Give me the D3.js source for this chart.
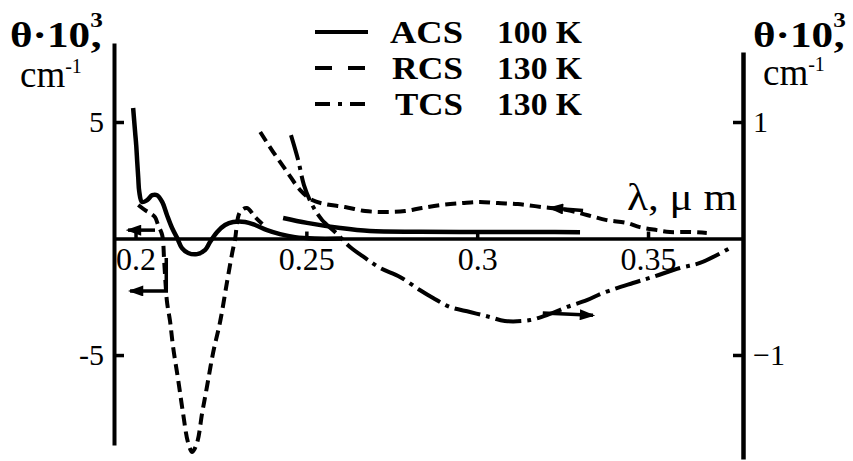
<!DOCTYPE html>
<html>
<head>
<meta charset="utf-8">
<script src="https://cdn.jsdelivr.net/npm/d3@7"></script>
<style>
  html, body { margin: 0; padding: 0; background: #fff; }
  svg { display: block; }
  text { font-family: "Liberation Serif", "Times New Roman", serif; fill: #000; }
</style>
</head>
<body>
<svg id="chart" width="853" height="461"></svg>
<script>
// Wavelength in µm, θ·10³ in cm⁻¹.
// ACS 100 K, left scale
const acsMain = [
  [0.1993, 5.60], [0.1999, 4.53], [0.2002, 4.01], [0.2005, 3.28], [0.2008, 2.60],
  [0.2011, 2.00], [0.2019, 1.57], [0.2034, 1.65], [0.2049, 1.86], [0.2063, 1.86],
  [0.2078, 1.57], [0.2092, 1.01], [0.2107, 0.45], [0.2122, 0.02], [0.2136, -0.41],
  [0.2154, -0.62], [0.2180, -0.67], [0.2204, -0.49], [0.2218, -0.15], [0.2239, 0.28],
  [0.2262, 0.58], [0.2286, 0.71], [0.2321, 0.71], [0.2350, 0.58], [0.2385, 0.36],
  [0.2423, 0.19], [0.2467, 0.06], [0.2525, 0.00], [0.2600, 0.00]
];
// ACS 100 K, long-wave branch
const acsTail = [
  [0.2432, 0.88], [0.2502, 0.67], [0.2599, 0.45], [0.2686, 0.32], [0.2832, 0.29],
  [0.3008, 0.28], [0.3184, 0.28], [0.3301, 0.27]
];
// RCS 130 K, short-wave branch with the deep minimum, left scale
const rcsShort = [
  [0.2008, 1.44], [0.2028, 1.22], [0.2043, 1.09], [0.2057, 0.92], [0.2066, 0.58],
  [0.2078, 0.15], [0.2084, -1.01], [0.2092, -2.70], [0.2101, -3.54], [0.2110, -4.66],
  [0.2125, -6.08], [0.2139, -7.49], [0.2154, -8.77], [0.2166, -9.16], [0.2180, -8.77],
  [0.2195, -7.49], [0.2209, -6.37], [0.2227, -4.91], [0.2248, -3.54], [0.2268, -1.85],
  [0.2283, -0.62], [0.2291, -0.06], [0.2306, 1.14], [0.2326, 1.31], [0.2350, 0.92],
  [0.2371, 0.62]
];
// RCS 130 K, long-wave branch, left scale
const rcsLong = [
  [0.2365, 4.57], [0.2403, 3.71], [0.2444, 2.85], [0.2482, 2.08], [0.2517, 1.65],
  [0.2555, 1.48], [0.2613, 1.35], [0.2672, 1.18], [0.2730, 1.14], [0.2789, 1.18],
  [0.2838, 1.31], [0.2897, 1.44], [0.2956, 1.52], [0.3008, 1.57], [0.3061, 1.52],
  [0.3119, 1.48], [0.3190, 1.35], [0.3263, 1.22], [0.3321, 1.01], [0.3379, 0.79],
  [0.3438, 0.67], [0.3476, 0.49], [0.3526, 0.36], [0.3564, 0.28], [0.3622, 0.28],
  [0.3672, 0.24]
];
// TCS 130 K, right scale
const tcs = [
  [0.2455, 0.888], [0.2476, 0.674], [0.2493, 0.459], [0.2517, 0.288], [0.2546, 0.159],
  [0.2584, 0.056], [0.2628, -0.073], [0.2672, -0.167], [0.2716, -0.253], [0.2774, -0.330],
  [0.2832, -0.442], [0.2871, -0.511], [0.2920, -0.588], [0.2979, -0.631], [0.3037, -0.674],
  [0.3081, -0.708], [0.3155, -0.700], [0.3213, -0.648], [0.3263, -0.588], [0.3321, -0.530],
  [0.3368, -0.468], [0.3456, -0.382], [0.3514, -0.330], [0.3593, -0.253], [0.3652, -0.210],
  [0.3740, -0.082]
];

// Arrows telling which scale a curve belongs to
const acsArrow = [[0.2057, 0.36], [0.1978, 0.36]];
const rcsShortArrow = [[0.2090, -0.84], [0.2090, -2.25], [0.1984, -2.25]];
const rcsLongArrow = [[0.3310, 1.20], [0.3213, 1.31]];
const tcsArrow = [[0.3192, -0.64], [0.3339, -0.66]];

const xTicks = [0.2, 0.25, 0.3, 0.35];
const xTickLabels = ["0.2", "0.25", "0.3", "0.35"];
const leftTicks = [5, -5];
const leftTickLabels = ["5", "-5"];
const rightTicks = [1, -1];
const rightTickLabels = ["1", "\u22121"];

const legendNames = ["ACS", "RCS", "TCS"];
const legendTemps = ["100 K", "130 K", "130 K"];

const svg = d3.select("#chart");

const x = d3.scaleLinear().domain([0.1937, 0.3778]).range([114, 743]);
const yL = d3.scaleLinear().domain([-8.86, 8.39]).range([445, 43]);
const yR = d3.scaleLinear().domain([-1.893, 1.601]).range([459, 52]);

const styles = {
  solid:   { dash: null,           width: 4.5 },
  dashed:  { dash: "11,6",         width: 4 },
  dashdot: { dash: "26,6,4,6",     width: 4 }
};
const legendDash = { solid: null, dashed: "17,16", dashdot: "15,8,4,8" };

// ---- axes ----
function styleAxis(g, domainWidth, fontSize) {
  g.attr("font-family", "Liberation Serif, Times New Roman, serif").attr("font-size", fontSize);
  g.select(".domain").attr("stroke-width", domainWidth).attr("stroke", "#000");
  g.selectAll(".tick line").attr("stroke-width", 3.5).attr("stroke", "#000");
  g.selectAll(".tick text").attr("fill", "#000");
}

const gx = svg.append("g")
  .attr("transform", `translate(0,${yL(0)})`)
  .call(d3.axisBottom(x).tickValues(xTicks).tickFormat((d, i) => xTickLabels[i])
    .tickSizeInner(-7).tickSizeOuter(0).tickPadding(9));
styleAxis(gx, 3.5, 32);

const gl = svg.append("g")
  .attr("transform", "translate(114,0)")
  .call(d3.axisLeft(yL).tickValues(leftTicks).tickFormat((d, i) => leftTickLabels[i])
    .tickSizeInner(-10).tickSizeOuter(0).tickPadding(10));
styleAxis(gl, 4, 30);

const gr = svg.append("g")
  .attr("transform", "translate(743,0)")
  .call(d3.axisRight(yR).tickValues(rightTicks).tickFormat((d, i) => rightTickLabels[i])
    .tickSizeInner(-10).tickSizeOuter(0).tickPadding(10));
styleAxis(gr, 4.5, 30);

// ---- curves ----
const lineL = d3.line().x(d => x(d[0])).y(d => yL(d[1])).curve(d3.curveCatmullRom.alpha(0.5));
const lineR = d3.line().x(d => x(d[0])).y(d => yR(d[1])).curve(d3.curveCatmullRom.alpha(0.5));

const curves = [
  { values: acsMain,  line: lineL, style: "solid" },
  { values: acsTail,  line: lineL, style: "solid" },
  { values: rcsShort, line: lineL, style: "dashed" },
  { values: rcsLong,  line: lineL, style: "dashed" },
  { values: tcs,      line: lineR, style: "dashdot" }
];

svg.append("g").selectAll("path")
  .data(curves)
  .join("path")
  .attr("d", c => c.line(c.values))
  .attr("fill", "none")
  .attr("stroke", "#000")
  .attr("stroke-width", c => styles[c.style].width)
  .attr("stroke-dasharray", c => styles[c.style].dash)
  .attr("stroke-linejoin", "round");

// ---- arrows ----
const defs = svg.append("defs");
defs.append("marker")
  .attr("id", "head")
  .attr("markerUnits", "userSpaceOnUse")
  .attr("viewBox", "0 0 14 10")
  .attr("refX", 12).attr("refY", 5)
  .attr("markerWidth", 16).attr("markerHeight", 11)
  .attr("orient", "auto")
  .append("path").attr("d", "M0,0 L14,5 L0,10 Z").attr("fill", "#000");

const straightL = d3.line().x(d => x(d[0])).y(d => yL(d[1]));
const straightR = d3.line().x(d => x(d[0])).y(d => yR(d[1]));
const arrows = [
  { pts: acsArrow, line: straightL },
  { pts: rcsShortArrow, line: straightL },
  { pts: rcsLongArrow, line: straightL },
  { pts: tcsArrow, line: straightR }
];
svg.append("g").selectAll("path")
  .data(arrows)
  .join("path")
  .attr("d", a => a.line(a.pts))
  .attr("fill", "none")
  .attr("stroke", "#000")
  .attr("stroke-width", 3.5)
  .attr("marker-end", "url(#head)");

// ---- legend ----
const legendStyles = ["solid", "dashed", "dashdot"];
const nameStart = [390, 392, 395];
const leg = svg.append("g").selectAll("g")
  .data(legendNames)
  .join("g")
  .attr("transform", (d, i) => `translate(0,${43 + i * 36})`);
leg.append("line")
  .attr("x1", 315).attr("x2", 368).attr("y1", -11).attr("y2", -11)
  .attr("stroke", "#000").attr("stroke-width", 4)
  .attr("stroke-dasharray", (d, i) => legendDash[legendStyles[i]]);
leg.append("text")
  .attr("x", (d, i) => nameStart[i]).attr("y", 0)
  .attr("font-size", 32).attr("font-weight", "bold")
  .attr("textLength", (d, i) => 463 - nameStart[i]).attr("lengthAdjust", "spacingAndGlyphs")
  .text(d => d);
leg.append("text")
  .attr("x", 497).attr("y", 0)
  .attr("font-size", 32).attr("font-weight", "bold")
  .attr("textLength", 85).attr("lengthAdjust", "spacingAndGlyphs")
  .text((d, i) => legendTemps[i]);

// ---- axis titles: θ·10³, cm⁻¹ ----
function axisTitle(x0, cmX, cmY) {
  const t = svg.append("text")
    .attr("transform", `translate(${x0},47) scale(1.2,1)`)
    .attr("font-size", 36).attr("font-weight", "bold");
  t.append("tspan").text("\u03b8\u00b710");
  t.append("tspan").attr("font-size", 21).attr("dy", -20).text("3");
  t.append("tspan").attr("dx", -10).attr("dy", 20).text(",");

  const c = svg.append("text").attr("x", cmX).attr("y", cmY).attr("font-size", 37);
  c.append("tspan").text("cm");
  c.append("tspan").attr("font-size", 20).attr("dy", -14).text("-1");
}
axisTitle(10, 20, 87);
axisTitle(753, 763, 85);

svg.append("text").attr("x", 627).attr("y", 210)
  .attr("font-size", 38)
  .attr("textLength", 110).attr("lengthAdjust", "spacingAndGlyphs")
  .text("\u03bb, \u03bc m");
</script>
</body>
</html>
